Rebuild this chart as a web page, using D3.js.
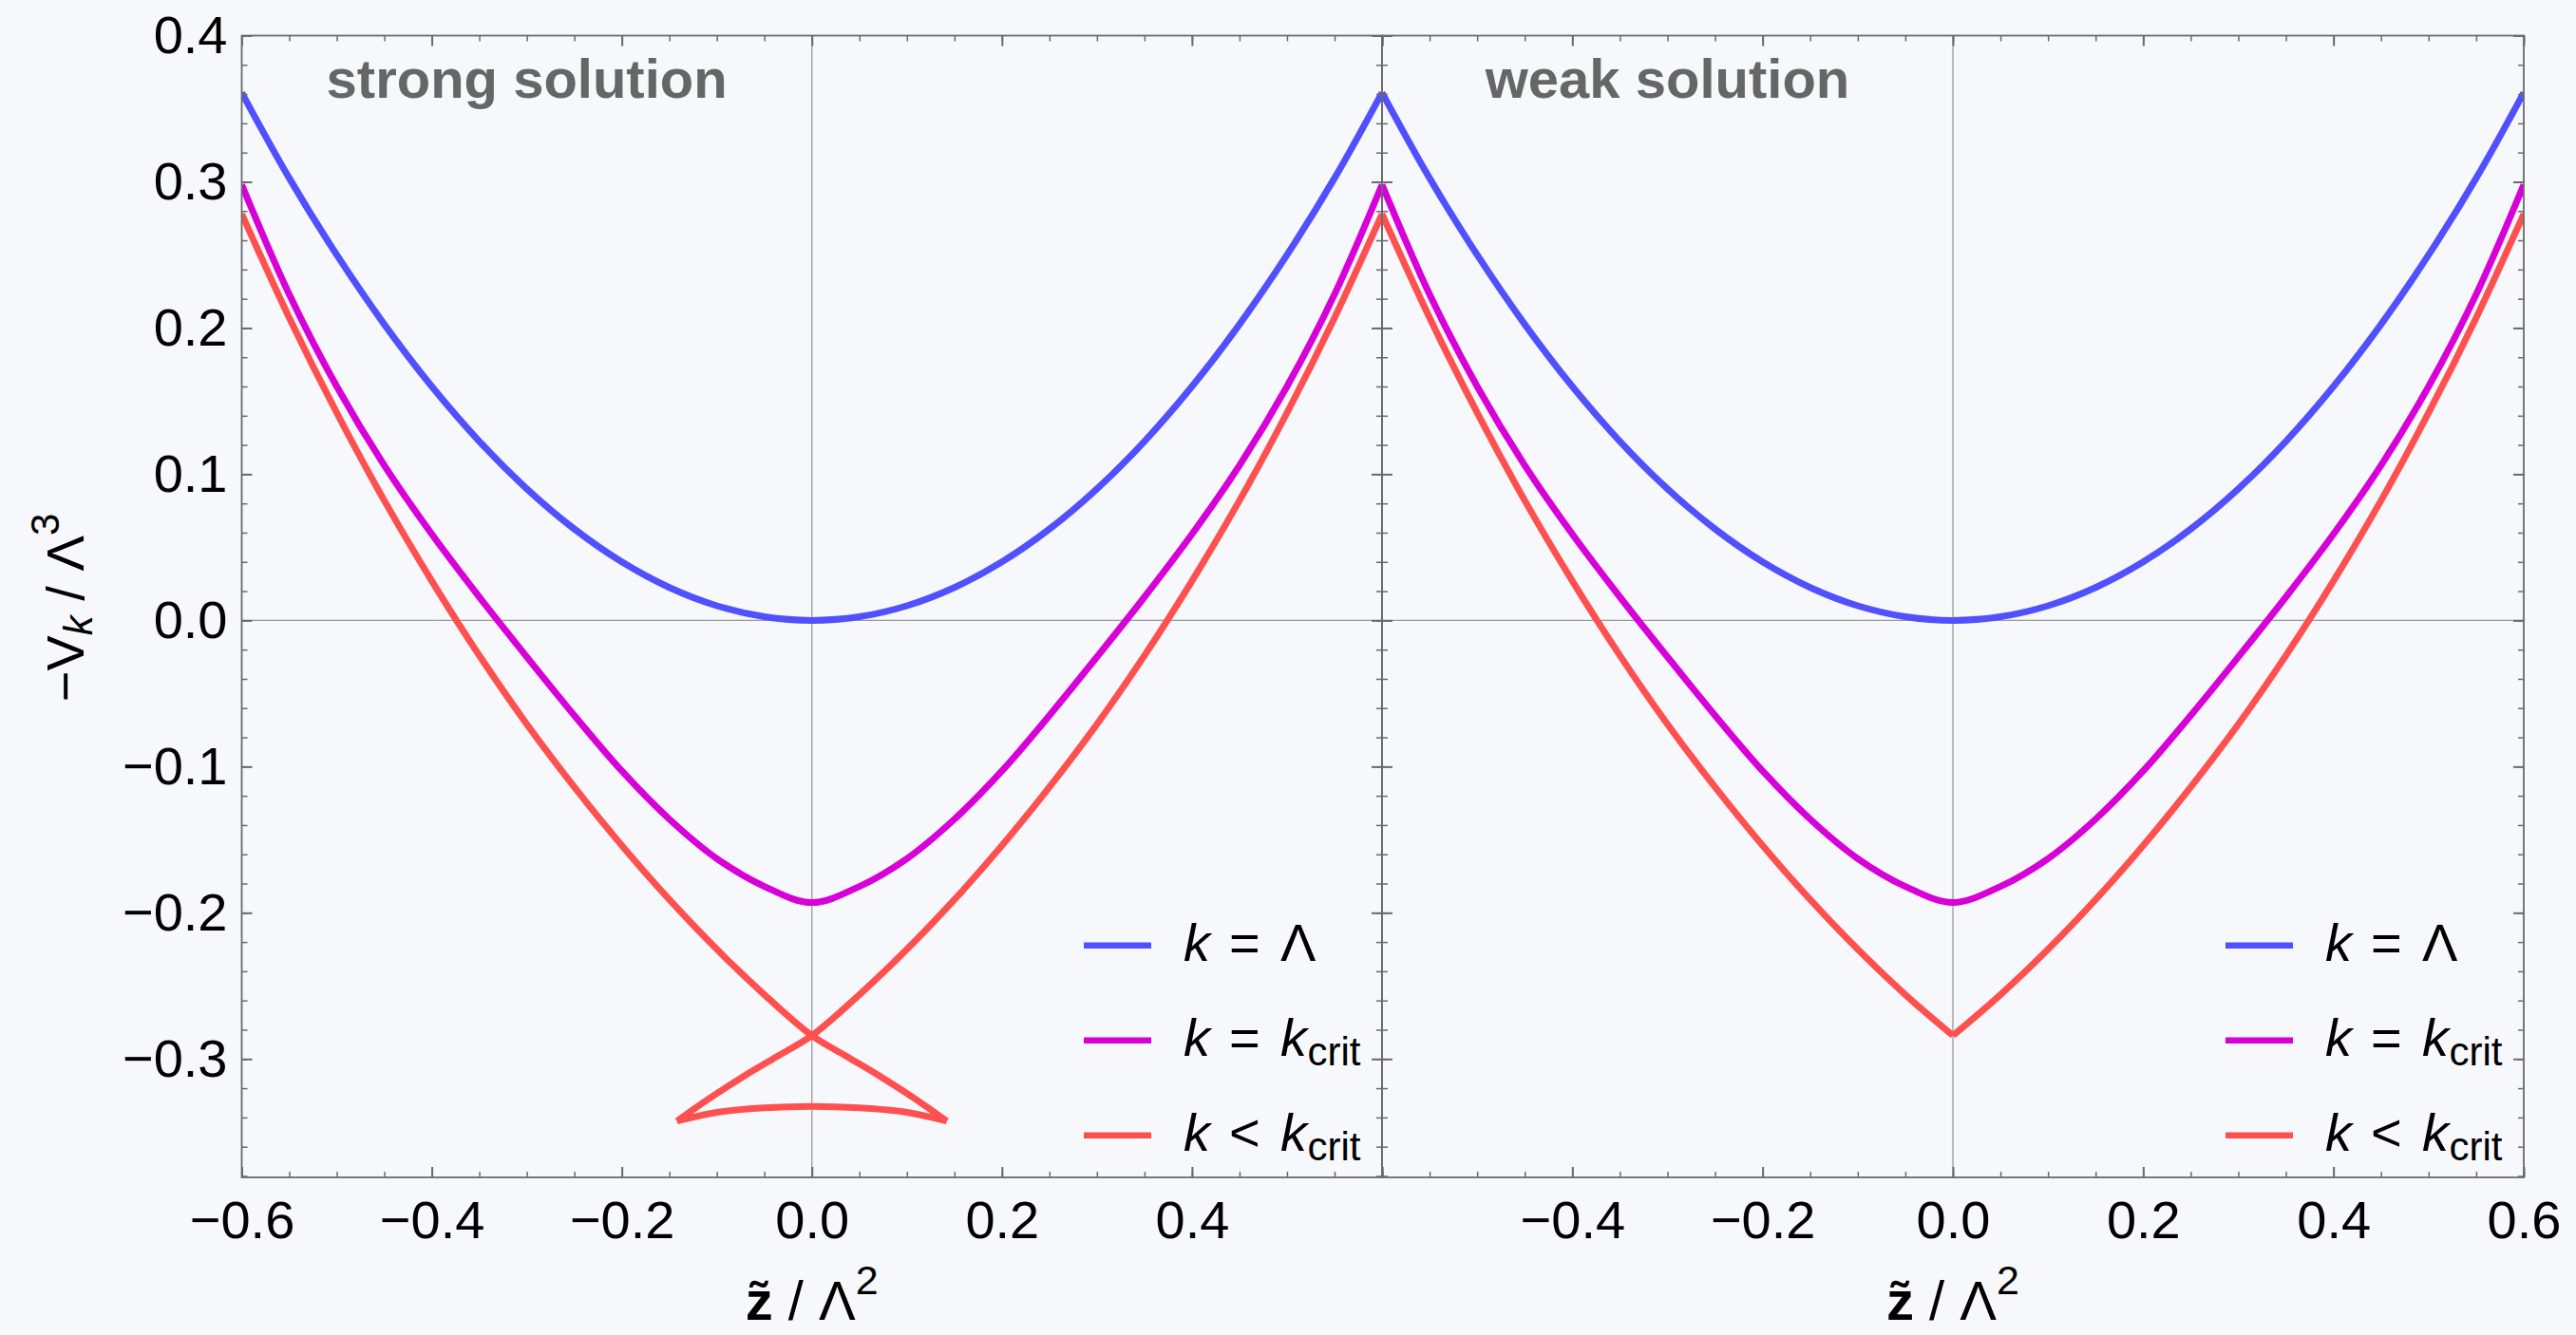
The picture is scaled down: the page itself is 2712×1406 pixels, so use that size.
<!DOCTYPE html>
<html><head><meta charset="utf-8">
<script src="https://cdn.jsdelivr.net/npm/d3@7"></script>
<style>
html,body{margin:0;padding:0;background:#f7f8fc;}
svg{display:block;font-family:"Liberation Sans",Arial,Helvetica,sans-serif;}
</style></head><body>
<svg id="chart" width="2712" height="1406"></svg>
<script>
// ---------------- data ----------------
const zGrid   = [-0.6,-0.55,-0.5,-0.45,-0.4,-0.35,-0.3,-0.25,-0.2,-0.15,-0.1,-0.05,0,0.05,0.1,0.15,0.2,0.25,0.3,0.35,0.4,0.45,0.5,0.55,0.6];
const vLambda = [0.361,0.3025,0.25,0.2025,0.16,0.1225,0.09,0.0625,0.04,0.0225,0.01,0.0025,0,0.0025,0.01,0.0225,0.04,0.0625,0.09,0.1225,0.16,0.2025,0.25,0.3025,0.361];
const vCrit   = [0.298,0.223,0.160,0.106,0.059,0.016,-0.025,-0.065,-0.103,-0.136,-0.163,-0.182,-0.193,-0.182,-0.163,-0.136,-0.103,-0.065,-0.025,0.016,0.059,0.106,0.160,0.223,0.298];
const vBelow  = [0.278,0.207,0.142,0.082,0.027,-0.024,-0.071,-0.114,-0.154,-0.191,-0.225,-0.256,-0.284,-0.256,-0.225,-0.191,-0.154,-0.114,-0.071,-0.024,0.027,0.082,0.142,0.207,0.278];
// swallowtail of the strong solution: outer branch continued past z=0 up to the cusp
const tailZ = [0.036,0.072,0.108,0.142];
const tailV = [-0.298,-0.312,-0.327,-0.3425];
// lower branch joining the two cusps
const baseZ = [-0.142,-0.1,-0.05,0,0.05,0.1,0.142];
const baseV = [-0.3425,-0.3365,-0.3335,-0.3325,-0.3335,-0.3365,-0.3425];

const seriesColors = ["#5050ff","#d800d8","#ff5050"];
const panelTitles  = ["strong solution","weak solution"];
const xTicksLeft   = [-0.6,-0.4,-0.2,0,0.2,0.4];
const xTicksRight  = [-0.4,-0.2,0,0.2,0.4,0.6];
const xMajor       = [-0.6,-0.4,-0.2,0,0.2,0.4,0.6];
const yTicks       = [-0.3,-0.2,-0.1,0,0.1,0.2,0.3,0.4];
const legendRows = [
  [{t:"k",it:true},{t:"=",op:true},{t:"Λ"}],
  [{t:"k",it:true},{t:"=",op:true},{t:"k",it:true},{t:"crit",sub:true}],
  [{t:"k",it:true},{t:"<",op:true},{t:"k",it:true},{t:"crit",sub:true}]
];

// ---------------- layout ----------------
const svg = d3.select("#chart");
svg.append("rect").attr("width",2712).attr("height",1406).attr("fill","#f7f8fc");
const TOP = 37.5, BOTTOM = 1240;
const y = d3.scaleLinear().domain([-0.381,0.4]).range([BOTTOM,TOP]);
const panels = [{x0:254.5,x1:1455,strong:true,xt:xTicksLeft},{x0:1455,x1:2657,strong:false,xt:xTicksRight}];
const FRAME = "#6a6a6a";
const fmt = d3.format(".1f");

const pts = (zs,vs) => zs.map((z,i)=>({z, v:vs[i]}));
const blue = pts(zGrid,vLambda);
const magenta = pts(zGrid,vCrit);
const red = pts(zGrid,vBelow);
const redLeft = red.filter(d=>d.z<=0);
const redRight = red.filter(d=>d.z>=0);
const tail = pts(tailZ,tailV);
const strongA = redLeft.concat(tail);
const strongC = redRight.slice().reverse().concat(tail.map(d=>({z:-d.z,v:d.v})));
const strongB = pts(baseZ,baseV);

panels.forEach((p,pi)=>{
  const x = d3.scaleLinear().domain([-0.6,0.6]).range([p.x0,p.x1]);
  const g = svg.append("g");
  const clipId = "clip"+pi;
  svg.append("defs").append("clipPath").attr("id",clipId)
    .append("rect").attr("x",p.x0).attr("y",TOP).attr("width",p.x1-p.x0).attr("height",BOTTOM-TOP);

  // zero axes
  g.append("line").attr("x1",p.x0).attr("x2",p.x1).attr("y1",y(0)).attr("y2",y(0))
    .attr("stroke","#9a9a9a").attr("stroke-width",1.3);
  g.append("line").attr("x1",x(0)).attr("x2",x(0)).attr("y1",TOP).attr("y2",BOTTOM)
    .attr("stroke","#9a9a9a").attr("stroke-width",1.3);

  // curves
  const line = d3.line().x(d=>x(d.z)).y(d=>y(d.v)).curve(d3.curveCatmullRom.alpha(0.5));
  const cg = g.append("g").attr("clip-path",`url(#${clipId})`)
    .attr("fill","none").attr("stroke-width",7).attr("stroke-linejoin","round");
  cg.append("path").attr("d",line(blue)).attr("stroke",seriesColors[0]);
  cg.append("path").attr("d",line(magenta)).attr("stroke",seriesColors[1]);
  const redSegs = p.strong ? [strongA,strongB,strongC] : [redLeft,redRight];
  redSegs.forEach(s=>cg.append("path").attr("d",line(s)).attr("stroke",seriesColors[2]));

  // frame
  g.append("rect").attr("x",p.x0).attr("y",TOP).attr("width",p.x1-p.x0).attr("height",BOTTOM-TOP)
    .attr("fill","none").attr("stroke",FRAME).attr("stroke-width",1.8);

  // ticks
  const minorX = x.ticks(24), minorY = y.ticks(40);
  const styleAxis = (sel,w)=>{ sel.select(".domain").remove(); sel.selectAll(".tick line").attr("stroke",FRAME).attr("stroke-width",w); };
  const addAxis = (axis,tr,w)=>{ const a = g.append("g").attr("transform",tr).call(axis); styleAxis(a,w); return a; };
  // minor
  addAxis(d3.axisBottom(x).tickValues(minorX).tickSize(-6).tickFormat(""),`translate(0,${BOTTOM})`,1.5);
  addAxis(d3.axisTop(x).tickValues(minorX).tickSize(-6).tickFormat(""),`translate(0,${TOP})`,1.5);
  addAxis(d3.axisLeft(y).tickValues(minorY).tickSize(-6).tickFormat(""),`translate(${p.x0},0)`,1.5);
  addAxis(d3.axisRight(y).tickValues(minorY).tickSize(-6).tickFormat(""),`translate(${p.x1},0)`,1.5);
  // major
  const xb = addAxis(d3.axisBottom(x).tickValues(xMajor).tickSize(-11).tickPadding(24)
      .tickFormat(d=>p.xt.some(t=>Math.abs(t-d)<1e-9)?fmt(d):""),`translate(0,${BOTTOM})`,2);
  xb.selectAll("text").attr("font-size",56).attr("fill","#000").attr("font-family","Liberation Sans, Arial, sans-serif");
  addAxis(d3.axisTop(x).tickValues(xMajor).tickSize(-11).tickFormat(""),`translate(0,${TOP})`,2);
  const yl = addAxis(d3.axisLeft(y).tickValues(yTicks).tickSize(-11).tickPadding(15)
      .tickFormat(pi===0?fmt:""),`translate(${p.x0},0)`,2);
  yl.selectAll("text").attr("font-size",56).attr("fill","#000").attr("font-family","Liberation Sans, Arial, sans-serif");
  addAxis(d3.axisRight(y).tickValues(yTicks).tickSize(-11).tickFormat(""),`translate(${p.x1},0)`,2);

  // panel title
  g.append("text").attr("x",x(-0.3)).attr("y",103).attr("text-anchor","middle")
    .attr("font-size",58).attr("font-weight","bold").attr("fill","#666666").text(panelTitles[pi]);

  // legend
  const rowBase = [1011.7,1111.7,1211.7];
  const offs = [0,48,102,130.5];
  legendRows.forEach((parts,ri)=>{
    g.append("line").attr("x1",p.x1-314).attr("x2",p.x1-243)
      .attr("y1",rowBase[ri]-16).attr("y2",rowBase[ri]-16)
      .attr("stroke",seriesColors[ri]).attr("stroke-width",6.5);
    const t = g.append("text").attr("y",rowBase[ri]).attr("font-size",56).attr("fill","#000");
    parts.forEach((pt,k)=>{
      const ts = t.append("tspan").attr("x",p.x1-209+offs[k]).text(pt.t);
      if(pt.it) ts.attr("font-style","italic");
      if(pt.sub) ts.attr("font-size",42).attr("y",rowBase[ri]+10);
      else ts.attr("y",rowBase[ri]);
    });
  });

  // x-axis label
  const xl = g.append("text").attr("x",x(0)).attr("y",1390).attr("text-anchor","middle")
    .attr("font-size",58).attr("fill","#000");
  xl.append("tspan").attr("font-weight","bold").text("z\u0303");
  xl.append("tspan").text(" / Λ");
  xl.append("tspan").attr("font-size",43).attr("dy",-27).text("2");
});

// y-axis label
const ylab = svg.append("text").attr("transform","translate(88,640) rotate(-90)")
  .attr("text-anchor","middle").attr("font-size",56).attr("fill","#000");
ylab.append("tspan").text("\u2212V");
ylab.append("tspan").attr("font-style","italic").attr("font-size",42).attr("dy",9).text("k");
ylab.append("tspan").attr("dy",-9).text(" / Λ");
ylab.append("tspan").attr("font-size",42).attr("dy",-26).text("3");
</script>
</body></html>
